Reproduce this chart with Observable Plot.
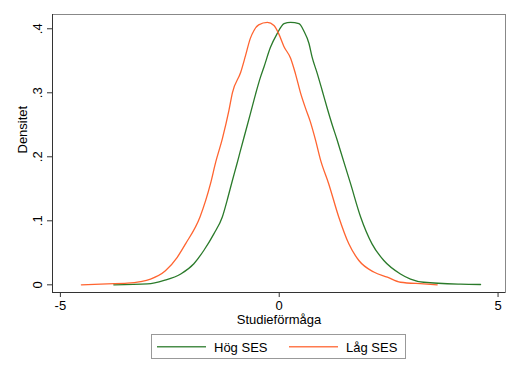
<!DOCTYPE html>
<html>
<head>
<meta charset="utf-8">
<script src="https://cdn.jsdelivr.net/npm/d3@7"></script>
<script src="https://cdn.jsdelivr.net/npm/@observablehq/plot@0.6"></script>
<style>
  body { margin: 0; background: #fff; }
  #wrap { position: relative; width: 520px; height: 377px; font-family: "Liberation Sans", Arial, sans-serif; }
  #wrap svg { display: block; }
</style>
</head>
<body>
<div id="wrap"></div>
<script>
// ---- data ----
const seriesNames = ["Hög SES", "Låg SES"];
const seriesColors = ["#2a7a2a", "#ff6430"];

const hogX = [-3.78, -3.01, -2.63, -2.25, -1.95, -1.72, -1.49, -1.30, -1.19, -1.07, -0.97, -0.90, -0.81, -0.66, -0.54, -0.43, -0.35, -0.20, -0.05, 0.11, 0.26, 0.45, 0.56, 0.68, 0.75, 0.87, 0.98, 1.10, 1.21, 1.32, 1.40, 1.63, 1.86, 2.12, 2.39, 2.77, 3.00, 3.30, 4.14, 4.60];
const hogY = [0, 0.0015, 0.007, 0.017, 0.033, 0.054, 0.080, 0.106, 0.132, 0.163, 0.188, 0.206, 0.229, 0.267, 0.298, 0.324, 0.340, 0.371, 0.392, 0.408, 0.410, 0.408, 0.397, 0.377, 0.356, 0.330, 0.304, 0.275, 0.250, 0.227, 0.209, 0.158, 0.106, 0.064, 0.038, 0.017, 0.009, 0.004, 0.001, 0.0005];

const lagX = [-4.52, -3.93, -3.47, -3.17, -2.94, -2.60, -2.33, -2.14, -1.81, -1.57, -1.45, -1.30, -1.15, -1.07, -0.88, -0.77, -0.66, -0.58, -0.47, -0.27, -0.12, -0.01, 0.11, 0.26, 0.37, 0.49, 0.60, 0.71, 0.83, 0.94, 1.13, 1.36, 1.59, 1.82, 2.16, 2.47, 2.77, 3.30, 3.61];
const lagY = [0, 0.0015, 0.0025, 0.005, 0.009, 0.022, 0.043, 0.064, 0.106, 0.158, 0.192, 0.228, 0.272, 0.300, 0.332, 0.358, 0.385, 0.397, 0.406, 0.410, 0.405, 0.392, 0.372, 0.354, 0.330, 0.299, 0.276, 0.255, 0.226, 0.196, 0.158, 0.106, 0.064, 0.038, 0.020, 0.012, 0.004, 0.0015, 0];

const xTicks = [-5, 0, 5];
const yTicks = [0, 0.1, 0.2, 0.3, 0.4];
const xLabel = "Studieförmåga";
const yLabel = "Densitet";

// ---- build table ----
const rows = [
  ...hogX.map((x, i) => ({x, y: hogY[i], s: seriesNames[0]})),
  ...lagX.map((x, i) => ({x, y: lagY[i], s: seriesNames[1]}))
];
const fmtY = d => d === 0 ? "0" : d3.format(".1f")(d).replace(/^0/, "");
const font = "'Liberation Sans', Arial, sans-serif";

const chart = Plot.plot({
  width: 520,
  height: 330,
  marginLeft: 52,
  marginRight: 15,
  marginTop: 14,
  marginBottom: 38,
  style: {fontFamily: font, fontSize: "13px", color: "#000", background: "#fff"},
  x: {domain: [-5.18, 5.17]},
  y: {domain: [-0.012, 0.4223]},
  color: {domain: seriesNames, range: seriesColors},
  marks: [
    Plot.frame({stroke: "#888"}),
    Plot.axisX({ticks: xTicks, tickSize: 5, tickPadding: 3, tickFormat: d => String(d), label: null, fontSize: 13, stroke: "#333"}),
    Plot.axisY({ticks: yTicks, tickSize: 5, tickFormat: () => "", label: null, stroke: "#333"}),
    Plot.text(yTicks, {y: d => d, frameAnchor: "left", dx: -10.5, rotate: -90, text: fmtY, lineAnchor: "bottom", textAnchor: "middle", fontSize: 13}),
    Plot.text([xLabel], {frameAnchor: "bottom", dy: 31, lineAnchor: "bottom", fontSize: 13}),
    Plot.text([yLabel], {frameAnchor: "left", dx: -25.5, rotate: -90, lineAnchor: "bottom", fontSize: 13}),
    Plot.lineY(rows, {x: "x", y: "y", z: "s", stroke: "s", strokeWidth: 1.3, curve: "monotone-x"}),
    Plot.ruleX([-5.18], {stroke: "#333"}),
    Plot.ruleY([-0.012], {stroke: "#333"})
  ]
});

const wrap = document.getElementById("wrap");
wrap.appendChild(chart);

// ---- legend ----
const leg = d3.create("svg").attr("width", 520).attr("height", 47);
leg.append("rect").attr("x", 151.5).attr("y", 4.5).attr("width", 254).attr("height", 24)
  .attr("fill", "#fff").attr("stroke", "#999");
const items = [
  {x1: 157, x2: 206, tx: 214},
  {x1: 289, x2: 338, tx: 346}
];
seriesNames.forEach((name, i) => {
  const it = items[i];
  leg.append("line").attr("x1", it.x1).attr("x2", it.x2).attr("y1", 16.7).attr("y2", 16.7)
    .attr("stroke", seriesColors[i]).attr("stroke-width", 1.6).attr("stroke-opacity", 0.85);
  leg.append("text").attr("x", it.tx).attr("y", 21.7).attr("font-family", font)
    .attr("font-size", 13).attr("fill", "#000").text(name);
});
wrap.appendChild(leg.node());
</script>
</body>
</html>
